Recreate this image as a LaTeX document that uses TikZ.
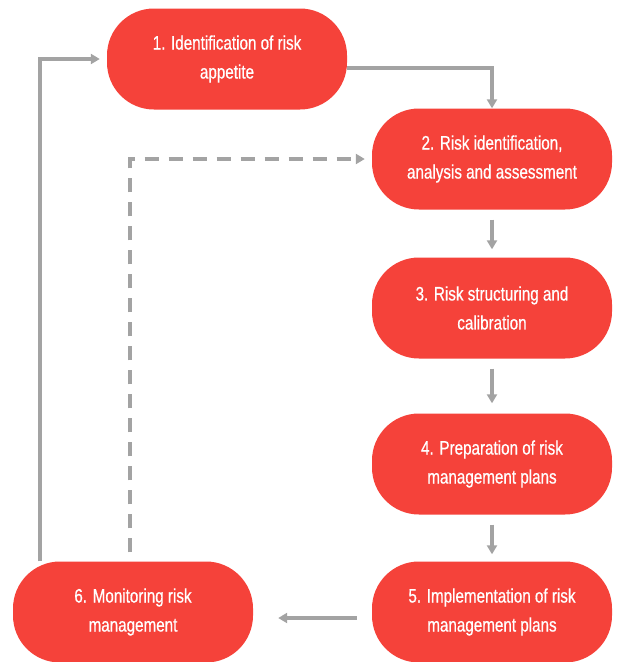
\documentclass[tikz,border=0pt]{standalone}
\usepackage{fontspec}
\newfontfamily\stagefont{Liberation Sans}[FakeStretch=0.78,FakeBold=0.6]
\usetikzlibrary{arrows.meta}
\definecolor{stagered}{RGB}{245,66,58}
\definecolor{flowgray}{RGB}{163,163,163}
\tikzset{stage/.style={draw=none, fill=stagered, rounded corners=47pt, minimum width=240pt, minimum height=101pt, align=center, text=white, font=\stagefont\fontsize{19.5}{29}\selectfont},
  flow/.style={flowgray, line width=3.3pt, -{Triangle[length=9pt,width=10pt]}}}

\begin{document}
\begin{tikzpicture}[x=1pt,y=-1pt]
   \useasboundingbox (0,0) rectangle (617,662);
    \node[stage] (a) at (227, 59) {1. Identification of risk\\appetite};
    \node[stage] (b) at (492,159) {2. Risk identification,\\analysis and assessment};
    \node[stage] (c) at (492,308) {3. Risk structuring and\\calibration};
    \node[stage] (d) at (492,464) {4. Preparation of risk\\management plans};
    \node[stage] (e) at (492,612) {5. Implementation of risk\\management plans};
    \node[stage] (f) at (133,612) {6. Monitoring risk\\management};
    \draw[flow] ([yshift=-9pt]a.east) -| (b.north);
    \draw[flow, shorten <=10pt, shorten >=8pt] (b) -- (c);
    \draw[flow, shorten <=10pt, shorten >=10pt] (c) -- (d);
    \draw[flow, shorten <=10pt, shorten >=7pt] (d) -- (e);
    \draw[flow, shorten <=15pt, shorten >=25pt] ([yshift=-6pt]e.west) -- ([yshift=-6pt]f.east);
    \draw[flow, shorten >=7pt] ([xshift=-93pt]f.north) |- (a.west);
    \draw[flow, dash pattern=on 14pt off 10pt, shorten <=9pt, shorten >=7pt] ([xshift=-3pt]f.north) |- (b.west);
\end{tikzpicture}
\end{document}
